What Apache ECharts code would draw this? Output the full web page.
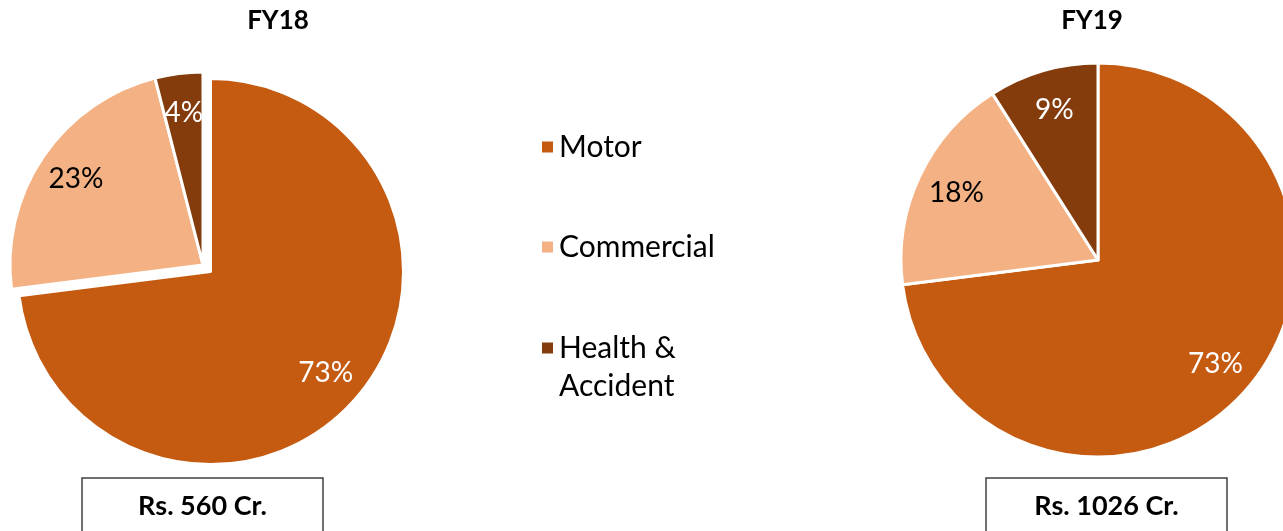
<!DOCTYPE html>
<html lang="en">
<head>
    <meta charset="UTF-8">
    <title>FY18 vs FY19 mix</title>
    <script src="https://cdn.jsdelivr.net/npm/echarts@6/dist/echarts.min.js"></script>
    <style>
        html, body { margin: 0; padding: 0; height: 100%; overflow: hidden; background: #fff; }
        #mixChart { width: 1283px; height: 531px; }
    </style>
</head>
<body>
    <div id="mixChart"></div>
    <script>
        // segments and shares (%)
        var categories = ['Motor', 'Commercial', 'Health & Accident'];
        var fy18Share = [73, 23, 4];
        var fy19Share = [73, 18, 9];
        var yearTitles = ['FY18', 'FY19'];
        var totals = ['Rs. 560 Cr.', 'Rs. 1026 Cr.'];

        var sliceColors = ['#C55A11', '#F4B183', '#843C0C'];
        var labelColors = ['#ffffff', '#000000', '#ffffff'];
        var FONT = 'Lato, "Open Sans", sans-serif';

        function buildData(values, withSelect) {
            return values.map(function (v, i) {
                return {
                    name: categories[i],
                    value: v,
                    selected: withSelect && i === 0,
                    itemStyle: { color: sliceColors[i] },
                    label: { color: labelColors[i] }
                };
            });
        }

        // main pie + a transparent ring on top that only carries the labels
        function pieSeries(values, center, r, explode) {
            var base = {
                type: 'pie',
                center: center,
                startAngle: 90,
                clockwise: true,
                selectedMode: explode ? 'single' : false,
                selectedOffset: 10,
                silent: true,
                animation: false
            };
            var fill = Object.assign({}, base, {
                radius: [0, r],
                data: buildData(values, explode),
                itemStyle: { borderColor: '#fff', borderWidth: 3 },
                select: { itemStyle: { borderColor: '#fff', borderWidth: 3 } },
                label: { show: false },
                labelLine: { show: false }
            });
            var labels = Object.assign({}, base, {
                radius: [Math.round(r * 0.56), r],
                data: buildData(values, explode).map(function (d) {
                    d.itemStyle = { color: 'rgba(0,0,0,0)' };
                    return d;
                }),
                itemStyle: { borderWidth: 0 },
                select: { itemStyle: { color: 'rgba(0,0,0,0)', borderWidth: 0 } },
                label: {
                    show: true,
                    position: 'inside',
                    formatter: '{c}%',
                    fontFamily: FONT,
                    fontSize: 28
                },
                labelLine: { show: false }
            });
            return [fill, labels];
        }

        function boxGraphic(cx, text) {
            return {
                type: 'group',
                children: [{
                    type: 'rect',
                    shape: { x: cx - 120.5, y: 478, width: 241, height: 70 },
                    style: { fill: 'none', stroke: '#404040', lineWidth: 1.5 }
                }, {
                    type: 'text',
                    x: cx,
                    y: 506,
                    style: {
                        text: text,
                        align: 'center',
                        verticalAlign: 'middle',
                        font: 'bold 27px ' + FONT,
                        fill: '#000'
                    }
                }]
            };
        }

        var legendText = { fontFamily: FONT, fontSize: 30, lineHeight: 38, color: '#000' };

        var chart = echarts.init(document.getElementById('mixChart'));
        var option = {
            backgroundColor: '#fff',
            title: [{
                text: yearTitles[0], left: 278, top: 8, textAlign: 'center', padding: 0,
                textStyle: { fontFamily: FONT, fontSize: 26, fontWeight: 'bold', color: '#000' }
            }, {
                text: yearTitles[1], left: 1092, top: 8, textAlign: 'center', padding: 0,
                textStyle: { fontFamily: FONT, fontSize: 26, fontWeight: 'bold', color: '#000' }
            }],
            legend: [{
                orient: 'vertical',
                left: 540,
                top: 128,
                padding: 0,
                itemGap: 62,
                itemWidth: 13,
                itemHeight: 13,
                icon: 'rect',
                selectedMode: false,
                data: categories.slice(0, 2),
                textStyle: legendText
            }, {
                // blank first line keeps the icon level with "Health &"
                orient: 'vertical',
                left: 540,
                top: 291,
                padding: 0,
                itemWidth: 13,
                itemHeight: 13,
                icon: 'rect',
                selectedMode: false,
                data: categories.slice(2),
                formatter: function (name) { return '\u00a0\n' + name.replace(' & ', ' &\n'); },
                textStyle: legendText
            }],
            series: [].concat(
                pieSeries(fy18Share, [203, 265], 193, true),
                pieSeries(fy19Share, [1098, 260], 197, false)
            ),
            graphic: [boxGraphic(202.5, totals[0]), boxGraphic(1106.5, totals[1])]
        };
        chart.setOption(option);
    </script>
</body>
</html>
